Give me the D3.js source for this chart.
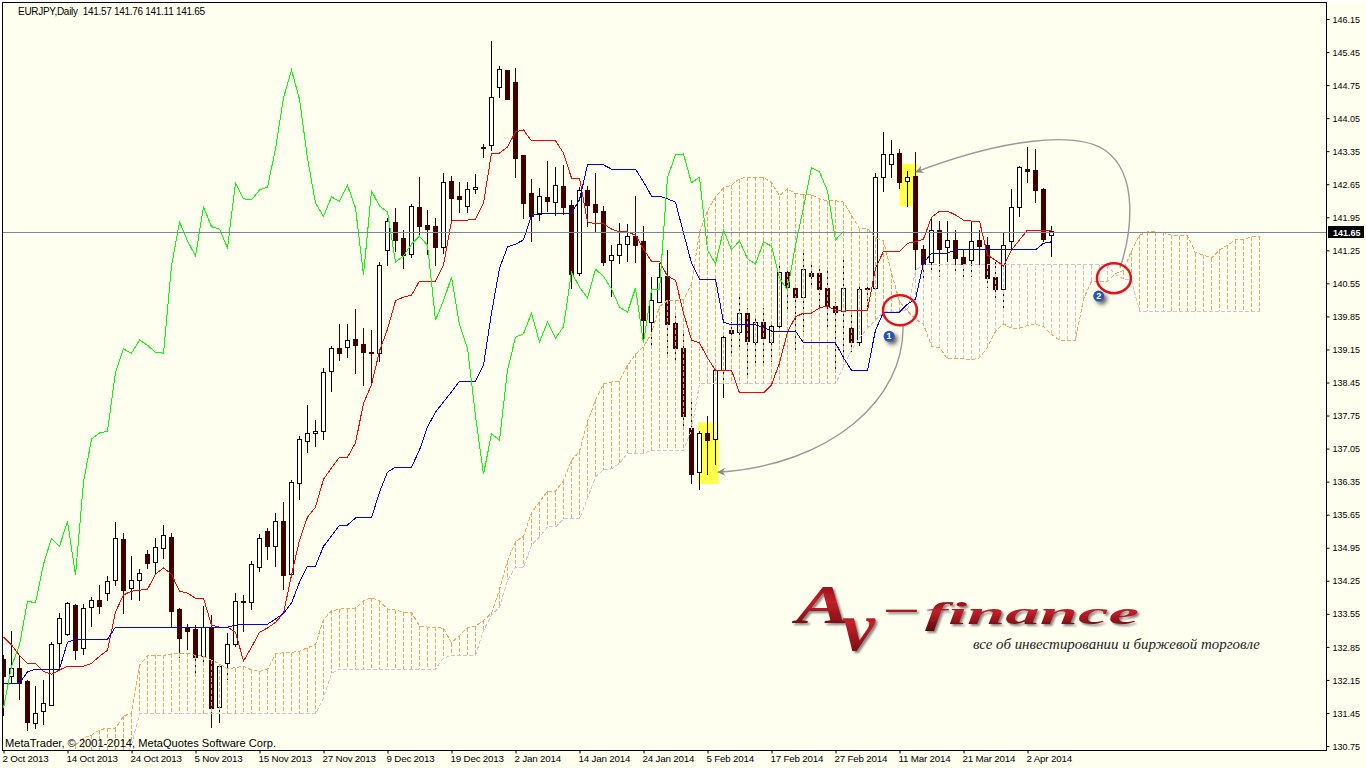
<!DOCTYPE html>
<html><head><meta charset="utf-8">
<style>
html,body{margin:0;padding:0;background:#fff;overflow:hidden}
svg{display:block}
text{font-family:"Liberation Sans",Arial,sans-serif;fill:#000}
</style>
<script src="https://cdn.jsdelivr.net/npm/d3@7"></script>
</head><body>
<svg id="c" width="1366" height="768"></svg>
<script>
const symbolTitle="EURJPY,Daily  141.57 141.76 141.11 141.65";
const copyright="MetaTrader, © 2001-2014, MetaQuotes Software Corp.";
const lastPrice=141.65;
const priceTicks=[146.15,145.45,144.75,144.05,143.35,142.65,141.95,141.25,140.55,139.85,139.15,138.45,137.75,137.05,136.35,135.65,134.95,134.25,133.55,132.85,132.15,131.45,130.75];
const dateTickBars=[0,8,16,24,32,40,48,56,64,72,80,88,96,104,112,120,128];
const dateTickLabels=["2 Oct 2013","14 Oct 2013","24 Oct 2013","5 Nov 2013","15 Nov 2013","27 Nov 2013","9 Dec 2013","19 Dec 2013","2 Jan 2014","14 Jan 2014","24 Jan 2014","5 Feb 2014","17 Feb 2014","27 Feb 2014","11 Mar 2014","21 Mar 2014","2 Apr 2014"];

const open=[132.59,132.23,132.40,132.12,131.23,131.49,131.61,132.93,133.12,133.73,132.82,133.69,133.84,133.97,134.26,135.13,134.09,134.26,134.81,134.64,134.94,135.17,133.65,133.25,133.22,132.65,133.27,131.57,132.50,132.89,133.82,133.80,134.54,135.30,134.98,135.51,134.39,136.32,137.21,137.38,137.42,138.69,139.18,139.20,139.37,139.26,139.09,139.07,141.24,141.83,141.49,141.17,142.15,141.77,141.75,141.32,142.70,142.38,142.17,142.53,143.42,143.46,144.69,145.05,144.81,143.25,142.46,142.00,142.36,142.27,142.61,142.19,140.75,142.51,142.21,142.08,141.04,141.13,141.38,141.55,141.43,139.73,140.15,140.70,139.71,139.18,137.48,136.55,137.36,137.25,138.71,139.56,139.50,139.92,139.29,139.73,139.29,139.63,140.79,140.45,140.26,140.75,140.75,140.45,140.05,139.96,139.60,139.29,140.45,140.45,142.80,143.06,143.31,142.70,142.82,141.26,141.00,141.68,141.30,141.45,141.09,141.04,141.45,141.36,140.68,140.41,141.43,142.15,142.97,142.95,142.53,141.57];
const high=[132.68,133.18,132.67,132.14,132.02,132.14,132.95,133.56,133.80,133.76,133.76,133.90,134.16,134.35,135.49,135.26,134.77,134.50,134.90,135.15,135.43,135.26,133.67,133.33,133.31,133.71,133.52,132.46,133.14,133.99,133.95,134.67,135.24,135.37,135.68,135.92,136.38,137.31,137.97,137.65,138.75,139.22,139.69,139.69,140.00,139.60,139.56,141.00,141.93,142.15,141.68,142.23,142.80,142.10,141.93,142.89,142.82,142.70,142.70,142.87,143.50,145.68,145.15,145.07,145.11,143.27,142.76,142.57,143.14,143.01,143.06,142.32,142.59,142.61,142.89,142.19,141.36,141.83,141.81,142.40,141.77,140.68,140.98,141.26,139.92,139.48,138.04,137.42,137.74,138.75,139.46,139.73,140.28,140.02,139.84,140.02,139.67,140.96,140.83,140.51,141.21,140.98,140.87,140.87,140.15,141.08,139.98,140.49,140.49,142.89,143.75,143.59,143.39,142.93,143.33,141.36,141.95,141.87,141.87,141.68,141.26,141.85,141.68,141.53,141.00,141.62,142.55,143.04,143.44,143.39,142.57,141.76];
const low=[131.38,132.08,131.72,131.06,131.10,131.19,131.59,132.38,133.08,132.57,132.67,133.27,133.54,133.82,134.14,133.54,133.84,133.82,134.50,134.39,134.71,133.27,132.61,132.78,132.29,132.52,131.13,131.23,132.14,132.84,133.16,133.63,134.43,134.69,134.54,134.05,134.30,135.96,136.95,137.08,137.23,138.25,138.90,138.97,138.63,138.37,138.40,138.88,140.92,141.21,140.85,141.08,141.55,141.15,140.92,141.17,141.83,142.04,142.04,142.44,143.20,143.35,144.48,144.43,142.78,141.91,141.43,141.87,142.06,141.97,142.00,140.43,140.70,141.75,141.64,140.92,140.26,140.96,141.00,140.98,139.35,139.16,140.13,139.01,138.86,137.46,136.30,136.17,136.49,136.70,138.12,139.07,139.20,138.57,138.86,138.86,138.88,139.60,139.92,139.14,139.52,140.45,139.98,139.63,138.71,138.92,139.09,139.22,139.98,140.43,142.49,142.78,142.55,142.17,140.83,140.58,140.79,140.68,141.00,140.77,140.66,140.68,140.87,140.45,140.15,139.96,141.24,141.95,142.68,142.25,141.43,141.11];
const close=[132.23,132.40,132.08,131.25,131.44,131.64,132.89,133.46,133.76,132.78,133.67,133.84,133.71,134.24,135.15,134.05,134.26,134.41,134.62,134.96,135.20,133.60,133.03,133.18,132.63,133.27,131.55,132.44,132.89,133.82,133.78,134.60,135.15,134.98,135.51,134.37,136.34,137.25,137.38,137.42,138.67,139.16,139.07,139.35,139.24,139.09,139.07,140.92,141.85,141.45,141.13,142.17,141.75,141.70,141.30,142.68,142.34,142.32,142.53,142.59,143.40,144.48,145.07,144.45,143.20,142.25,141.97,142.38,142.29,142.63,142.15,140.73,142.51,142.19,142.06,141.00,141.13,141.38,141.55,141.36,139.77,140.18,140.68,139.67,139.18,137.74,136.51,137.36,137.23,138.71,139.41,139.48,139.92,139.31,139.73,139.39,139.63,140.79,140.47,140.24,140.85,140.70,140.43,140.05,139.94,140.45,139.29,140.41,140.41,142.80,143.27,143.29,142.68,142.80,141.26,140.96,141.68,141.26,141.45,141.07,140.96,141.43,141.34,140.66,140.41,141.36,142.15,143.00,142.91,142.51,141.47,141.65];

const tenkan=[133.06,132.89,132.67,132.50,132.50,132.33,132.27,132.36,132.44,132.44,132.44,132.50,132.65,132.78,133.59,133.95,134.03,134.05,134.07,134.39,134.52,134.39,134.03,133.99,133.88,133.88,133.31,133.27,133.27,133.16,132.55,132.84,133.16,133.25,133.37,133.56,134.37,135.11,135.60,135.81,136.40,136.64,136.87,136.87,137.17,138.01,138.40,139.12,139.58,140.18,140.26,140.30,140.60,140.60,140.60,140.94,141.87,141.89,141.89,141.91,142.25,143.31,143.31,143.44,143.76,143.80,143.57,143.57,143.57,143.57,143.31,142.78,142.78,141.85,141.81,141.81,141.70,141.64,141.64,141.57,141.28,141.02,141.02,140.70,140.62,139.92,139.35,139.29,138.97,138.71,138.71,138.71,138.23,138.23,138.23,138.23,138.40,138.86,139.52,139.84,139.92,139.92,140.03,140.07,139.98,139.96,139.98,139.98,139.98,140.87,141.23,141.23,141.23,141.40,141.43,141.49,141.95,142.08,142.08,142.00,141.89,141.87,141.87,141.15,141.04,140.92,141.26,141.47,141.68,141.68,141.68,141.68];
const kijun=[132.08,132.08,132.08,132.32,132.38,132.38,132.38,132.38,132.95,133.01,133.01,133.01,133.01,133.01,133.27,133.27,133.27,133.27,133.27,133.27,133.27,133.27,133.27,133.27,133.27,133.27,133.27,133.27,133.27,133.31,133.33,133.33,133.33,133.33,133.44,133.56,133.78,134.22,134.56,134.56,134.98,135.20,135.43,135.43,135.58,135.58,135.58,136.13,136.55,136.66,136.66,136.66,137.02,137.51,137.82,138.04,138.25,138.48,138.48,138.48,138.82,139.92,140.87,141.32,141.38,141.47,141.98,142.04,142.04,142.04,142.04,142.04,142.32,143.06,143.06,143.06,142.97,142.97,142.97,142.97,142.70,142.40,142.40,142.34,142.27,141.62,140.98,140.64,140.64,140.64,139.73,139.67,139.67,139.67,139.67,139.62,139.54,139.54,139.54,139.54,139.29,139.29,139.29,139.29,139.29,138.97,138.71,138.71,138.71,139.56,139.94,139.94,139.94,140.11,140.22,140.98,141.19,141.19,141.19,141.26,141.26,141.26,141.26,141.26,141.26,141.26,141.26,141.26,141.26,141.26,141.40,141.43];
const chikou=[131.55,132.44,132.89,133.82,133.78,134.60,135.15,134.98,135.51,134.37,136.34,137.25,137.38,137.42,138.67,139.16,139.07,139.35,139.24,139.09,139.07,140.92,141.85,141.45,141.13,142.17,141.75,141.70,141.30,142.68,142.34,142.32,142.53,142.59,143.40,144.48,145.07,144.45,143.20,142.25,141.97,142.38,142.29,142.63,142.15,140.73,142.51,142.19,142.06,141.00,141.13,141.38,141.55,141.36,139.77,140.18,140.68,139.67,139.18,137.74,136.51,137.36,137.23,138.71,139.41,139.48,139.92,139.31,139.73,139.39,139.63,140.79,140.47,140.24,140.85,140.70,140.43,140.05,139.94,140.45,139.29,140.41,140.41,142.80,143.27,143.29,142.68,142.80,141.26,140.96,141.68,141.26,141.45,141.07,140.96,141.43,141.34,140.66,140.41,141.36,142.15,143.00,142.91,142.51,141.47,141.65];
const spanA=[null,null,null,null,null,null,null,null,null,130.77,130.92,130.98,131.09,131.13,131.13,131.38,131.45,132.46,132.67,132.67,132.67,132.70,132.72,132.72,132.67,132.65,
132.57,132.49,132.38,132.41,132.44,132.36,132.33,132.37,132.70,132.73,132.73,132.76,132.83,132.90,133.43,133.61,133.65,133.66,133.67,133.83,133.89,133.83,133.65,133.63,133.58,133.58,133.29,133.27,133.27,133.24,132.94,133.09,133.25,133.29,133.41,133.56,134.07,134.67,135.08,135.19,135.69,135.92,136.15,136.15,136.37,136.80,136.99,137.62,138.07,138.42,138.46,138.48,138.81,139.05,139.21,139.49,140.06,140.19,140.19,140.20,140.54,141.62,142.09,142.38,142.57,142.63,142.77,142.80,142.80,142.80,142.68,142.41,142.55,142.45,142.43,142.43,142.34,142.30,142.30,142.27,141.99,141.71,141.71,141.52,141.45,140.77,140.17,139.96,139.80,139.68,139.22,139.19,138.95,138.95,138.95,138.93,138.97,139.20,139.53,139.69,139.60,139.60,139.66,139.68,139.64,139.47,139.35,139.35,139.35,140.22,140.59,140.59,140.59,140.76,140.82,141.24,141.57,141.64,141.64,141.63,141.57,141.56,141.56,141.20,141.15,141.09,141.26,141.36,141.47,141.47,141.54,141.55];
const spanB=[null,null,null,null,null,null,null,null,null,130.20,130.20,130.20,130.20,130.20,130.20,130.45,130.77,
131.43,131.43,131.43,131.43,131.43,131.43,131.43,131.43,131.43,131.43,131.43,131.43,131.43,131.43,131.43,131.43,131.43,131.43,131.43,131.43,131.43,131.43,131.43,
131.77,132.29,132.38,132.38,132.38,132.38,132.38,132.38,132.38,132.38,132.38,132.38,132.38,132.38,132.38,132.61,132.67,132.67,132.67,132.67,133.20,133.52,133.69,134.26,134.54,134.54,135.00,135.18,135.39,135.39,135.56,135.56,135.56,136.00,136.45,136.60,136.62,136.74,136.95,136.95,136.95,137.02,137.02,137.02,137.02,137.02,137.44,
138.42,138.42,138.42,138.42,138.42,138.42,138.42,138.42,138.42,138.42,138.42,138.42,138.42,138.42,138.42,138.42,138.42,138.42,
138.78,139.14,139.39,139.60,139.77,139.94,139.96,139.96,139.98,140.83,
140.94,140.94,140.94,140.94,140.94,140.94,140.94,140.94,140.94,140.94,140.94,140.94,140.94,140.94,140.94,140.94,140.94,140.94,140.94,140.94,140.94,140.94,140.94,140.94,
140.73,140.64,140.62,
139.96,139.96,139.96,139.96,139.96,139.96,139.96,139.96,139.96,139.96,139.96,139.96,139.96,139.96,139.96,139.96];

// annotations in chart coordinates [bar index, price]
const yellowBoxes=[[86.8,137.61,89.4,136.30],[112.0,143.08,114.2,142.19]];
const redRings=[[112.06,139.98],[138.8,140.66]];
const badges=[[110.7,139.43,"1"],[136.9,140.28,"2"]];
const arrowOne=[[112.44,139.67],[112.69,138.08],[103.31,136.7],[89.31,136.55]];
const arrowTwo=[[139.56,140.88],[140.94,141.57],[142.06,142.85],[137.69,143.37],[133.94,143.8],[124.56,143.59],[114.06,142.91]];

const IVORY="#FFFFF0",L=2.5,T=2.5,R=1326.5,B=750.5;
const x=d3.scaleLinear().domain([0,157]).range([3.5,1259.5]);
const y=d3.scaleLinear().domain([146.15,130.75]).range([19,746]);
const svg=d3.select("#c");
const defs=svg.append("defs");
defs.append("clipPath").attr("id","plot").append("rect").attr("x",L).attr("y",T).attr("width",R-L).attr("height",B-T);
const lg=defs.append("linearGradient").attr("id","logo").attr("x1",0).attr("y1",0).attr("x2",0).attr("y2",1);
lg.append("stop").attr("offset","0%").attr("stop-color","#7a0c12");
lg.append("stop").attr("offset","45%").attr("stop-color","#c2202a");
lg.append("stop").attr("offset","100%").attr("stop-color","#5a0508");
const shadow=defs.append("filter").attr("id","lshadow").attr("x","-20%").attr("y","-20%").attr("width","150%").attr("height","150%");
shadow.append("feDropShadow").attr("dx",2).attr("dy",2).attr("stdDeviation",1.2).attr("flood-color","#555").attr("flood-opacity",.7);
const bshadow=defs.append("filter").attr("id","bshadow").attr("x","-100%").attr("y","-100%").attr("width","300%").attr("height","300%");
bshadow.append("feDropShadow").attr("dx",3).attr("dy",3).attr("stdDeviation",2.2).attr("flood-color","#333").attr("flood-opacity",.75);
const mk=defs.append("marker").attr("id","head").attr("markerUnits","userSpaceOnUse").attr("viewBox","0 0 10 10").attr("refX",9).attr("refY",5).attr("markerWidth",9).attr("markerHeight",8).attr("orient","auto");
mk.append("path").attr("d","M0,0L10,5L0,10L3,5Z").attr("fill","#8a8a8a");

svg.append("rect").attr("x",2).attr("y",2).attr("width",1364).attr("height",766).attr("fill",IVORY);

// logo
const logo=svg.append("g");
const logoText=(tx,ty,size,len,s)=>logo.append("text").attr("x",tx).attr("y",ty)
  .attr("font-style","italic").attr("font-weight","bold").attr("font-size",size)
  .attr("textLength",len).attr("lengthAdjust","spacingAndGlyphs")
  .style("font-family","'Liberation Serif'").style("fill","url(#logo)").attr("filter","url(#lshadow)").text(s);
logoText(796,623,54,54,"A");
logoText(842,650,70,33,"v");
logoText(887,619,34,30,"–");
logoText(925,624,31,214,"finance");
logo.append("text").attr("x",973).attr("y",649).style("font-family","'Liberation Serif'").attr("font-style","italic").attr("font-size",14.5).attr("textLength",287).attr("lengthAdjust","spacingAndGlyphs").style("fill","#222").text("все об инвестировании и биржевой торговле");

const plot=svg.append("g").attr("clip-path","url(#plot)");

// yellow highlights
plot.append("g").selectAll("rect").data(yellowBoxes).join("rect")
  .attr("x",d=>x(d[0])).attr("y",d=>y(d[1])).attr("width",d=>x(d[2])-x(d[0])).attr("height",d=>y(d[3])-y(d[1])).attr("fill","#FFFF4D");

// candles
const DARK="#400000";
const candles=d3.range(close.length);
const g=plot.append("g").attr("shape-rendering","crispEdges");
g.selectAll("line.w").data(candles).join("line").attr("class","w")
  .attr("x1",x).attr("x2",x).attr("y1",i=>y(high[i])).attr("y2",i=>y(low[i]))
  .attr("stroke",i=>close[i]>=open[i]?"#000":DARK);
g.selectAll("rect.b").data(candles).join("rect").attr("class","b")
  .attr("x",i=>x(i)-2).attr("width",4)
  .attr("y",i=>y(Math.max(open[i],close[i])))
  .attr("height",i=>Math.max(1,y(Math.min(open[i],close[i]))-y(Math.max(open[i],close[i]))))
  .attr("fill",i=>close[i]>=open[i]?IVORY:DARK)
  .attr("stroke",i=>close[i]>=open[i]?"#000":DARK);

// cloud histogram
const cloudBars=d3.range(spanA.length).filter(i=>spanA[i]!==null&&spanB[i]!==null);
const SANDY="#F4A460",THISTLE="#D8BFD8";
plot.append("g").attr("shape-rendering","crispEdges").selectAll("line").data(cloudBars).join("line")
  .attr("x1",x).attr("x2",x).attr("y1",i=>y(spanA[i])).attr("y2",i=>y(spanB[i]))
  .attr("stroke",i=>spanA[i]>=spanB[i]?SANDY:THISTLE).attr("stroke-dasharray","4,2");

const lineOf=arr=>d3.line().defined(i=>arr[i]!==null&&arr[i]!==undefined).x(i=>x(i)).y(i=>y(arr[i]));
function drawLine(arr,color,dash){
  plot.append("path").attr("d",lineOf(arr)(d3.range(arr.length))).attr("fill","none").attr("stroke",color)
    .attr("stroke-width",1).attr("stroke-dasharray",dash||null).attr("shape-rendering","crispEdges");
}
drawLine(spanA,SANDY,"4,2");
drawLine(spanB,THISTLE,"4,2");
drawLine(tenkan,"#FF0000");
drawLine(kijun,"#0000FF");
drawLine(chikou,"#00FF00");

// last price line
plot.append("line").attr("x1",L).attr("x2",R).attr("y1",Math.ceil(y(lastPrice))+.5).attr("y2",Math.ceil(y(lastPrice))+.5).attr("stroke","#778899").attr("stroke-width",1);

// annotations
const curve=pts=>{const p=d3.path();p.moveTo(x(pts[0][0]),y(pts[0][1]));
  for(let k=1;k+2<pts.length;k+=3)p.bezierCurveTo(x(pts[k][0]),y(pts[k][1]),x(pts[k+1][0]),y(pts[k+1][1]),x(pts[k+2][0]),y(pts[k+2][1]));return p.toString();};
[arrowOne,arrowTwo].forEach(a=>plot.append("path").attr("d",curve(a)).attr("fill","none").attr("stroke","#999").attr("stroke-width",1.4).attr("marker-end","url(#head)"));
plot.append("g").selectAll("ellipse").data(redRings).join("ellipse")
  .attr("cx",d=>x(d[0])).attr("cy",d=>y(d[1])).attr("rx",17).attr("ry",15).attr("fill","none").attr("stroke","#E8111A").attr("stroke-width",2.5);
const bd=plot.append("g").selectAll("g").data(badges).join("g").attr("transform",d=>`translate(${x(d[0])},${y(d[1])})`);
bd.append("circle").attr("r",5.5).attr("fill","#2B55B0").attr("filter","url(#bshadow)");
bd.append("text").attr("text-anchor","middle").attr("y",3.2).attr("font-size",9).attr("font-weight","bold").style("fill","#fff").text(d=>d[2]);

// frame
svg.append("rect").attr("x",L).attr("y",T).attr("width",R-L).attr("height",B-T).attr("fill","none").attr("stroke","#000").attr("shape-rendering","crispEdges");

// axes
const fmtFont=s=>s.style("font-family","'Liberation Sans'").style("font-size","9.8px").style("fill","#000");
const yAxis=svg.append("g").attr("transform",`translate(${R},0)`)
  .call(d3.axisRight(y).tickValues(priceTicks).tickSize(3).tickPadding(3).tickFormat(d3.format(".2f")));
yAxis.select(".domain").remove();
yAxis.selectAll("text").call(fmtFont).attr("textLength",27.5).attr("lengthAdjust","spacingAndGlyphs");
const xAxis=svg.append("g").attr("transform",`translate(0,${B})`)
  .call(d3.axisBottom(x).tickValues(dateTickBars).tickSize(3).tickPadding(3).tickFormat((d,i)=>dateTickLabels[i]));
xAxis.select(".domain").remove();
xAxis.selectAll("text").call(fmtFont).attr("text-anchor","start").attr("x",-1.5).attr("y",5).attr("dy","0.71em").style("letter-spacing","-0.2px");

// last price tag
svg.append("rect").attr("x",1328).attr("y",Math.ceil(y(lastPrice))-6).attr("width",36).attr("height",12).attr("fill","#000");
svg.append("text").attr("x",1333).attr("y",Math.ceil(y(lastPrice))+3.5).style("font-size","9.8px").style("font-weight","bold").style("fill","#fff").attr("textLength",27.5).attr("lengthAdjust","spacingAndGlyphs").text(d3.format(".2f")(lastPrice));

// captions
svg.append("text").attr("x",18).attr("y",14.5).style("font-size","10px").attr("textLength",187).attr("lengthAdjust","spacing").style("white-space","pre").text(symbolTitle);
svg.append("text").attr("x",5).attr("y",747).style("font-size","11px").attr("textLength",271).attr("lengthAdjust","spacingAndGlyphs").text(copyright);
</script>
</body></html>
